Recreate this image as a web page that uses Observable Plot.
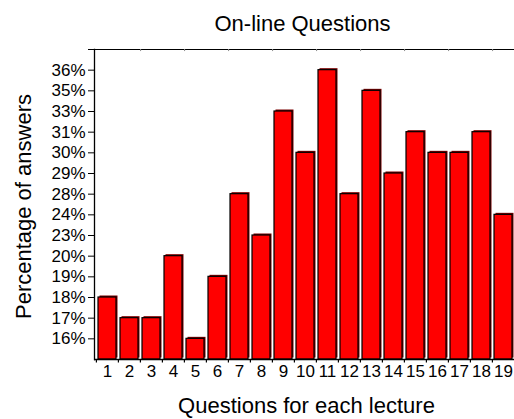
<!DOCTYPE html>
<html>
<head>
<meta charset="utf-8">
<script src="https://cdn.jsdelivr.net/npm/d3@7"></script>
<script src="https://cdn.jsdelivr.net/npm/@observablehq/plot@0.6"></script>
<style>
  html, body { margin: 0; padding: 0; background: #fff; }
  svg { display: block; }
</style>
</head>
<body>
<div id="chart"></div>
<script>
const questions = ["1","2","3","4","5","6","7","8","9","10","11","12","13","14","15","16","17","18","19"];
const percents = [18,17,17,20,16,19,28,23,33,30,36,28,35,29,31,30,30,31,24];
const yTickLabels = ["16%","17%","18%","19%","20%","23%","24%","28%","29%","30%","31%","33%","35%","36%"];

const data = questions.map((q, i) => ({q, p: percents[i], rank: yTickLabels.indexOf(percents[i] + "%") + 1}));
const yTicks = d3.range(1, yTickLabels.length + 2);
const topTickQs = questions.filter((q, i) => i % 2 === 1);
const font = "'Liberation Sans', Arial, sans-serif";

const W = 514, H = 419;
const chart = Plot.plot({
  width: W,
  height: H,
  marginLeft: 94,
  marginRight: 0,
  marginTop: 49,
  marginBottom: 60,
  style: {fontFamily: font, background: "#fff", overflow: "visible"},
  x: {type: "band", domain: questions, range: [94, 516], paddingInner: 0.19, paddingOuter: 0.095, axis: null},
  y: {domain: [0, 15], range: [359, 49], axis: null},
  marks: [
    // shadows
    Plot.barY(data, {x: "q", y: "rank", fill: "#7a0000", dx: 1.5, dy: -1.5}),
    Plot.barY(data, {x: "q", y: "rank", fill: "#ff0000", stroke: "#000", strokeWidth: 1.2}),
    // axes lines
    Plot.ruleY([0], {stroke: "#000", strokeWidth: 1.3}),
    Plot.ruleY([15], {stroke: "#000", strokeWidth: 1}),
    Plot.frame({anchor: "left", stroke: "#000", strokeWidth: 1.3}),
    // bottom boundary ticks
    Plot.ruleX(questions, {x: d => d, dx: -11.1, y1: 0, y2: -0.17, stroke: "#000", strokeWidth: 1.2}),
    // top boundary ticks (gray)
    Plot.ruleX(topTickQs, {x: d => d, dx: 11.1, y1: 15, y2: 14.9, stroke: "#888", strokeWidth: 1}),
    Plot.axisX({tickSize: 0, tickPadding: 5, fontSize: 17, fill: "#000", label: null}),
    Plot.axisY({ticks: yTicks, tickSize: 6, tickPadding: 3, fontSize: 17, fill: "#000",
      tickFormat: d => yTickLabels[d - 1] ?? "", label: null}),
    Plot.text(["On-line Questions"], {frameAnchor: "top", dx: -2, dy: -26, fontSize: 22, fill: "#000", lineAnchor: "middle"}),
    Plot.text(["Questions for each lecture"], {frameAnchor: "bottom", dx: 2, dy: 46, fontSize: 22, fill: "#000", lineAnchor: "middle"}),
    Plot.text(["Percentage of answers"], {frameAnchor: "left", textAnchor: "middle", dx: -71, dy: 2, rotate: -90, fontSize: 22, fill: "#000"})
  ]
});
document.getElementById("chart").appendChild(chart);
</script>
</body>
</html>
